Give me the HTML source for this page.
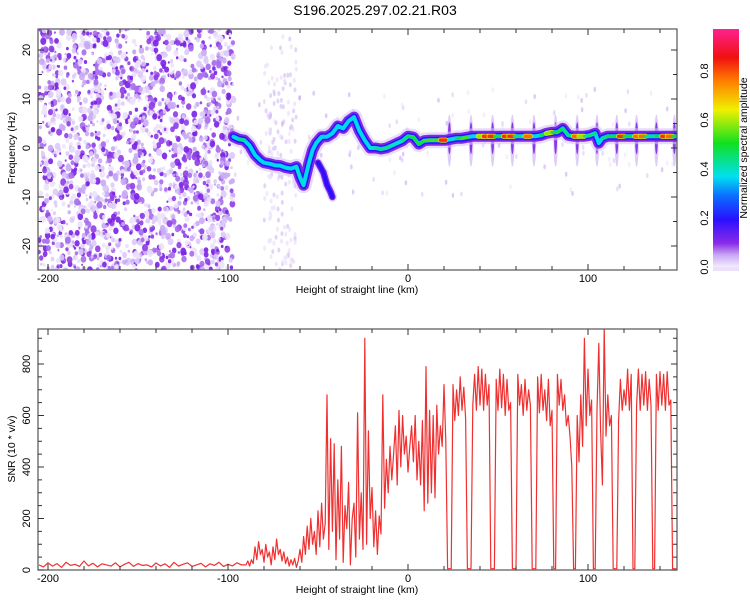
<!DOCTYPE html>
<html><head><meta charset="utf-8"><style>
html,body{margin:0;padding:0;background:#fff;}
svg{display:block;font-family:"Liberation Sans",sans-serif;}
</style></head><body>
<svg id="chart" width="750" height="600" viewBox="0 0 750 600" xmlns="http://www.w3.org/2000/svg">
<defs>
<clipPath id="clipTop"><rect x="38" y="29" width="639" height="241"/></clipPath>
<clipPath id="clipBot"><rect x="38" y="329" width="639" height="241"/></clipPath>
<linearGradient id="cbar" x1="0" y1="1" x2="0" y2="0">
<stop offset="0" stop-color="#f4ecfd"/>
<stop offset="0.05" stop-color="#c9a8f5"/>
<stop offset="0.1" stop-color="#8a2be8"/>
<stop offset="0.2" stop-color="#2a10ff"/>
<stop offset="0.3" stop-color="#0a70ff"/>
<stop offset="0.38" stop-color="#00e0f0"/>
<stop offset="0.52" stop-color="#10e020"/>
<stop offset="0.66" stop-color="#f0f000"/>
<stop offset="0.78" stop-color="#ff8000"/>
<stop offset="0.88" stop-color="#f01010"/>
<stop offset="1" stop-color="#ff2090"/>
</linearGradient>
</defs>
<text x="375" y="15" text-anchor="middle" font-size="14" fill="#000">S196.2025.297.02.21.R03</text>
<g id="topMarks" clip-path="url(#clipTop)"></g>
<g id="botMarks" clip-path="url(#clipBot)"></g>
<g id="axes"></g>
</svg>
<script>
// ---------- data ----------
const xTicks = [-200, -100, 0, 100];
const freqTicks = [-20, -10, 0, 10, 20];
const snrTicks = [0, 200, 400, 600, 800];
const cbarTicks = [0.0, 0.2, 0.4, 0.6, 0.8];
const ridgeKm = [-97,-94,-91,-88,-85,-82,-80,-77,-74,-71,-68,-65,-62,-60,-58,-55,-53,-51,-48,-45,-42,-39,-36,-33,-30,-27,-24,-21,-18,-15,-12,-9,-6,-3,0,3,6,9,12,15,18,21,24,27,30,33,36,39,42,45,48,50,53,56,59,62,65,68,71,74,77,80,83,86,89,92,95,98,101,104,106,108,111,114,117,120,123,126,129,132,135,138,141,144,147,149];
const ridgeHz = [2.3,1.8,1.6,0.5,-1.4,-2.5,-3,-3.2,-3.5,-3.6,-4,-4.2,-3.8,-6,-7.6,-3,-0.4,1,2.3,2.3,3,4.5,4,5.5,6.3,3.5,1.6,0,0,-0.2,0,0.5,1,1.5,2.4,2.2,0.8,1.5,1.6,1.6,1.6,1.6,1.8,2,2,2.2,2.4,2.4,2.4,2.4,2.4,2.4,2.4,2.4,2.4,2.4,2.4,2.4,2.4,2.6,3,3.2,3.2,4,2.6,2.4,2.4,2.4,2.6,3,1,2,2.4,2.4,2.4,2.4,2.4,2.4,2.4,2.4,2.4,2.4,2.4,2.4,2.4,2.4];
const ridgeAmp = [0.35,0.45,0.5,0.35,0.45,0.35,0.55,0.3,0.3,0.3,0.3,0.35,0.5,0.4,0.5,0.3,0.35,0.35,0.3,0.45,0.3,0.35,0.3,0.35,0.5,0.35,0.35,0.4,0.55,0.45,0.85,0.45,0.4,0.45,0.7,0.5,0.5,0.55,0.8,0.55,0.85,0.85,0.35,0.5,0.6,0.55,0.3,0.6,0.85,0.85,0.85,0.5,0.85,0.85,0.85,0.45,0.8,0.8,0.3,0.5,0.8,0.6,0.5,0.65,0.45,0.8,0.85,0.6,0.45,0.6,0.35,0.45,0.8,0.5,0.85,0.85,0.5,0.8,0.85,0.8,0.45,0.5,0.85,0.85,0.8,0.5];
const branchKm = [-50,-47,-45,-43,-42];
const branchHz = [-3,-5,-7.5,-9,-10];
const streakKm = [23,35,47,58,70,82,94,105,116,127,138,148];
const floorStart = -205, floorStep = 2.5;
const floorSnr = [20,12,28,15,25,10,30,18,22,14,35,16,26,12,24,20,15,28,12,22,30,14,25,18,20,12,27,16,24,10,30,15,22,28,14,20,26,12,24,18,30,14,22,16,28,20];
const snrStart = -90, snrStep = 1;
const snrValues = [20,35,15,40,25,
90,40,110,60,80,30,100,50,70,20,90,40,120,60,80,35,70,25,50,15,40,20,45,10,35,
80,30,130,60,170,80,200,100,150,60,230,90,260,120,180,
680,80,510,150,490,40,350,120,480,30,250,160,340,20,200,
260,50,610,120,300,80,900,100,540,200,320,90,230,60,210,
140,680,240,430,300,480,350,450,560,330,620,400,600,450,520,
380,480,560,420,600,350,500,330,580,230,790,260,620,300,600,280,640,450,560,480,720,500,
5,5,5, 720,580,700,600,750,620,710,590, 5,5,5,
640,760,620,790,640,780,620,760,640,720, 5,5,5,
740,620,780,630,760,600,740,620,650, 5,5,5,
760,640,720,600,740,620,700,640, 5,5,5,
750,610,760,620,700,580,740,560,620, 5,5,
760,640,740,620,680,560,600,520,400, 5,5,
600,420,680,480,900,560,780,600,660, 5,5,
620,880,540,330,940,520,680,560,600, 5,5,5,
580,740,620,700,640,780,620,760, 5,5,
640,780,620,760,640,770,620,740,640, 5,5,
760,620,770,640,760,620,770,640,660, 5,5,5];

// ---------- scales ----------
const X = km => 408 + 1.8 * km;
const YT = hz => 148 - 4.9 * hz;
const YB = v => 570 - 0.2575 * v;
const YC = v => 267 - 245 * v;
const NS = "http://www.w3.org/2000/svg";
function mk(tag, attrs, parent) {
  const e = document.createElementNS(NS, tag);
  for (const k in attrs) e.setAttribute(k, attrs[k]);
  parent.appendChild(e);
  return e;
}
function cmap(a) {
  const stops = [[0,[244,236,253]],[0.1,[138,43,232]],[0.2,[42,16,255]],[0.3,[10,112,255]],[0.38,[0,224,240]],[0.52,[16,224,32]],[0.66,[240,240,0]],[0.78,[255,128,0]],[0.88,[240,16,16]],[1,[255,32,144]]];
  for (let i = 1; i < stops.length; i++) {
    if (a <= stops[i][0]) {
      const a0 = stops[i-1][0], c0 = stops[i-1][1], a1 = stops[i][0], c1 = stops[i][1];
      const t = (a - a0) / (a1 - a0);
      return "rgb(" + c0.map((c,j)=>Math.round(c + (c1[j]-c)*t)).join(",") + ")";
    }
  }
  return "rgb(255,32,144)";
}
const topG = document.getElementById("topMarks");
const botG = document.getElementById("botMarks");
const axG = document.getElementById("axes");

// ---------- background noise texture ----------
let seed = 12345;
function rnd() { seed = (seed * 16807) % 2147483647; return seed / 2147483647; }
const noiseColors = ["#ece2fb","#dccaf8","#c9aaf4","#a66aec","#8f3de6","#7a20e4"];
for (let i = 0; i < 2000; i++) {
  const km = -205 + rnd() * 108, hz = -25 + rnd() * 50;
  const c = Math.min(noiseColors.length - 1, Math.floor(Math.pow(rnd(), 1.2) * noiseColors.length));
  const r = 1.1 + rnd() * 2.3;
  const d = mk("ellipse", {cx: X(km).toFixed(1), cy: YT(hz).toFixed(1), rx: (r*0.9).toFixed(1), ry: (r*1.1).toFixed(1), fill: noiseColors[c], opacity: 0.9}, topG);
  
  
}
for (let i = 0; i < 140; i++) {
  const km = -80 + rnd() * 18, hz = -25 + rnd() * 48;
  const d = mk("ellipse", {cx: X(km).toFixed(1), cy: YT(hz).toFixed(1), rx: 1.5, ry: 2.5, fill: noiseColors[Math.floor(rnd()*2)], opacity: 0.8}, topG);
  
  
}
for (let i = 0; i < 120; i++) {
  const km = -97 + rnd() * 246, hz = -10 + rnd() * 22;
  const d = mk("ellipse", {cx: X(km).toFixed(1), cy: YT(hz).toFixed(1), rx: 1.3, ry: 2.5, fill: noiseColors[Math.floor(rnd()*3)], opacity: 0.6}, topG);
  
  
}
streakKm.forEach(km => {
  const s1 = mk("ellipse", {cx: X(km), cy: YT(1.5), rx: 2.2, ry: 26, fill: "#d2b8f6", opacity: 0.7}, topG);
  
  
  const s2 = mk("ellipse", {cx: X(km), cy: YT(2), rx: 1.5, ry: 16, fill: "#7a20e4", opacity: 0.85}, topG);
  
  
});
function ridgePath(kms, hzs) {
  return kms.map((k,i)=>(i?"L":"M")+X(k).toFixed(1)+","+YT(hzs[i]).toFixed(1)).join(" ");
}
const layers = [["#d9c4f7",16,0.6],["#7a20e4",11,0.95],["#2a10ff",7,1],["#00d8f0",4,1]];
layers.forEach(function(L) {
  const col = L[0], w = L[1], op = L[2];
  const p = mk("path", {d: ridgePath(ridgeKm, ridgeHz), fill: "none", stroke: col, "stroke-width": w, "stroke-linejoin": "round", "stroke-linecap": "round", opacity: op}, topG);
  
  
  if (w > 6) {
    const b = mk("path", {d: ridgePath(branchKm, branchHz), fill: "none", stroke: col, "stroke-width": w*0.6, "stroke-linecap": "round", opacity: op}, topG);
    
    
  }
});
for (let i = 0; i < ridgeKm.length - 1; i++) {
  const a = Math.min(ridgeAmp[i], ridgeAmp[i+1]);
  if (a < 0.4) continue;
  if (a >= 0.6) {
    const u = mk("line", {x1: X(ridgeKm[i]), y1: YT(ridgeHz[i]), x2: X(ridgeKm[i+1]), y2: YT(ridgeHz[i+1]), stroke: "#e8f000", "stroke-width": 5, "stroke-linecap": "round"}, topG);
    
    
  }
  const seg = mk("line", {x1: X(ridgeKm[i]), y1: YT(ridgeHz[i]), x2: X(ridgeKm[i+1]), y2: YT(ridgeHz[i+1]), stroke: cmap(a), "stroke-width": a >= 0.6 ? 3.5 : 3, "stroke-linecap": "round"}, topG);
  
  
}

// ---------- SNR line ----------
let pd = "";
floorSnr.forEach((v,i) => { pd += (i?"L":"M") + X(floorStart + i*floorStep).toFixed(1) + "," + YB(v).toFixed(1) + " "; });
snrValues.forEach((v,i) => { pd += "L" + X(snrStart + i*snrStep).toFixed(1) + "," + YB(v).toFixed(1) + " "; });
const snrLine = mk("path", {d: pd, fill: "none", stroke: "#f03030", "stroke-width": 1.2, "stroke-linejoin": "round"}, botG);



// ---------- axes ----------
function frame(y0, name) {
  const r = mk("rect", {x: 38, y: y0, width: 639, height: 241, fill: "none", stroke: "#555", "stroke-width": 1.2}, axG);
  
  
}
frame(29, "top-plot-frame");
frame(329, "bottom-plot-frame");
function tick(x1,y1,x2,y2) {
  const t = mk("line", {x1:x1,y1:y1,x2:x2,y2:y2, stroke: "#333", "stroke-width": 1}, axG);
  
  
}
[[29,270],[329,570]].forEach(function(tb) {
  const t0 = tb[0], b0 = tb[1];
  for (let km = -200; km <= 140; km += 20) {
    const x = X(km), L = km % 100 === 0 ? 6 : 4;
    tick(x, b0, x, b0 - L); tick(x, t0, x, t0 + L);
  }
});
for (let hz = -20; hz <= 20; hz += 5) {
  const y = YT(hz), L = hz % 10 === 0 ? 6 : 4;
  tick(38, y, 38 + L, y); tick(677, y, 677 - L, y);
}
for (let v = 0; v <= 900; v += 50) {
  const y = YB(v), L = v % 200 === 0 ? 6 : 4;
  tick(38, y, 38 + L, y); tick(677, y, 677 - L, y);
}
[282, 582].forEach(function(yy) {
  xTicks.forEach(v => {
    const t = mk("text", {x: X(v), y: yy, "text-anchor": "middle", "font-size": 11, fill: "#000"}, axG);
    t.textContent = v;
    
    
  });
  const lab = mk("text", {x: 357, y: yy + 11, "text-anchor": "middle", "font-size": 10.5, fill: "#000"}, axG);
  lab.textContent = "Height of straight line (km)";
  
  
});
freqTicks.forEach(v => {
  const t = mk("text", {x: 0, y: 0, "text-anchor": "middle", "font-size": 11, fill: "#000", transform: "translate(30," + YT(v) + ") rotate(-90)"}, axG);
  t.textContent = v;
  
  
});
snrTicks.forEach(v => {
  const t = mk("text", {x: 0, y: 0, "text-anchor": "middle", "font-size": 11, fill: "#000", transform: "translate(30," + YB(v) + ") rotate(-90)"}, axG);
  t.textContent = v;
  
  
});
const yt1 = mk("text", {x: 0, y: 0, "text-anchor": "middle", "font-size": 10.5, fill: "#000", transform: "translate(15,148) rotate(-90)"}, axG);
yt1.textContent = "Frequency (Hz)";


const yt2 = mk("text", {x: 0, y: 0, "text-anchor": "middle", "font-size": 10.5, fill: "#000", transform: "translate(15,449) rotate(-90)"}, axG);
yt2.textContent = "SNR (10 * v/v)";



const cb = mk("rect", {x: 713, y: 29, width: 26, height: 238, fill: "url(#cbar)"}, axG);


const cbl = mk("rect", {x: 713, y: 267, width: 26, height: 4, fill: "#ece0fb"}, axG);


cbarTicks.forEach(v => {
  const t = mk("text", {x: 0, y: 0, "text-anchor": "middle", "font-size": 11, fill: "#000", transform: "translate(708," + YC(v) + ") rotate(-90)"}, axG);
  t.textContent = v.toFixed(1);
  
  
});
const ct = mk("text", {x: 0, y: 0, "text-anchor": "middle", "font-size": 10.5, fill: "#000", transform: "translate(747,148) rotate(-90)"}, axG);
ct.textContent = "Normalized spectral amplitude";


</script>
</body></html>
